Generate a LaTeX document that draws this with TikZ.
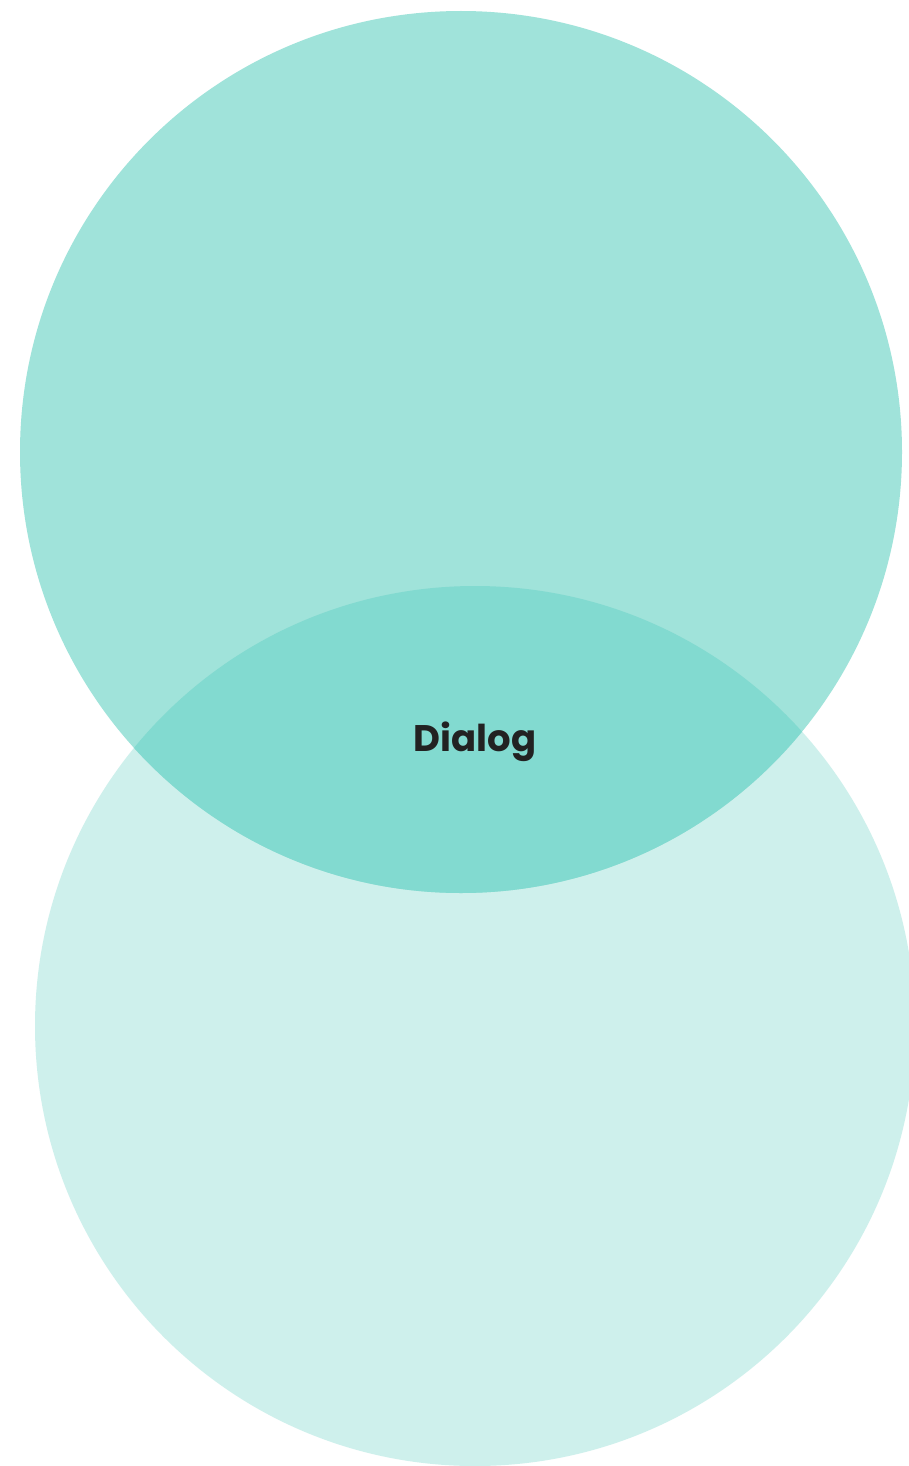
\documentclass[tikz,border=0pt]{standalone}
\usepackage{fontspec}
\newfontfamily\labelfont{Poppins}
\definecolor{topc}{HTML}{A0E3DA}
\definecolor{botc}{HTML}{CEF0EC}
\definecolor{overc}{HTML}{82DAD0}
\definecolor{textc}{HTML}{222222}
\begin{document}
\begin{tikzpicture}[x=1pt,y=1pt,
  lbl/.style={font=\labelfont\bfseries\fontsize{37}{40}\selectfont, text=textc, inner sep=0pt}]
\useasboundingbox (0,0) rectangle (909,-1466);
\fill[white] (0,0) rectangle (909,-1466);
\begin{scope}
\clip (0,0) rectangle (909,-1466);
\fill[botc] (475,-1026) circle (440);
\fill[topc] (461,-452) circle (441);
\begin{scope}
\clip (475,-1026) circle (440);
\fill[overc] (461,-452) circle (441);
\end{scope}
\end{scope}
\node[lbl, anchor=base] (dialog) at (475,-751) {Dialog};
\end{tikzpicture}
\end{document}
